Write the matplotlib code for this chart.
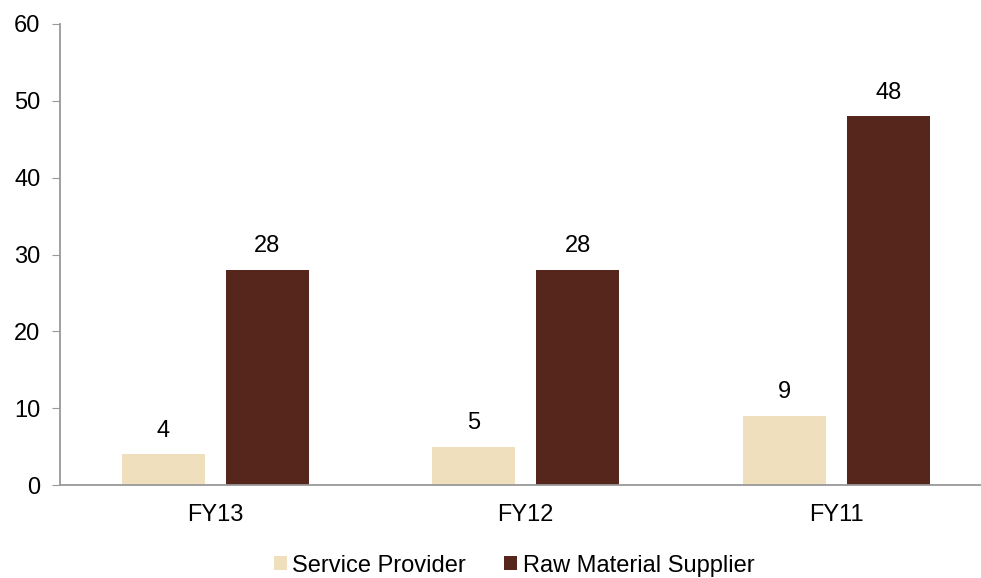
import matplotlib.pyplot as plt
import numpy as np

plt.rcParams['font.family'] = ['Liberation Sans', 'DejaVu Sans']

years = ['FY13', 'FY12', 'FY11']
service = [4, 5, 9]
raw = [28, 28, 48]

fig = plt.figure(figsize=(9.81, 5.78), dpi=100)
ax = fig.add_axes([60 / 981, (578 - 485) / 578, 931.5 / 981, 461 / 578])

x = np.arange(len(years))
w = 0.266
off = 0.1675
b1 = ax.bar(x - off, service, w, color='#F0DFBC', label='Service Provider')
b2 = ax.bar(x + off, raw, w, color='#56261C', label='Raw Material Supplier')

for bars, vals in ((b1, service), (b2, raw)):
    for r, v in zip(bars, vals):
        ax.annotate(str(v), (r.get_x() + r.get_width() / 2, v), xytext=(0, 9),
                    textcoords='offset points', ha='center', va='bottom', fontsize=17)

ax.set_xlim(-0.5, 2.5)
ax.set_ylim(0, 60)
ax.set_yticks(range(0, 61, 10))
ax.set_xticks(x)
ax.set_xticklabels(years)
ax.tick_params(axis='both', labelsize=17, color='#999999')
ax.tick_params(axis='x', length=0, pad=14)
ax.tick_params(axis='y', length=6, pad=8)
for s in ('top', 'right'):
    ax.spines[s].set_visible(False)
for s in ('left', 'bottom'):
    ax.spines[s].set_color('#999999')
    ax.spines[s].set_linewidth(1.3)

ax.legend(loc='center', bbox_to_anchor=(454 / 931.5, -0.175), ncol=2, frameon=False,
          fontsize=17, handlelength=0.55, handleheight=0.55, handletextpad=0.25,
          columnspacing=1.6)

fig.savefig('out.png', dpi=100)
